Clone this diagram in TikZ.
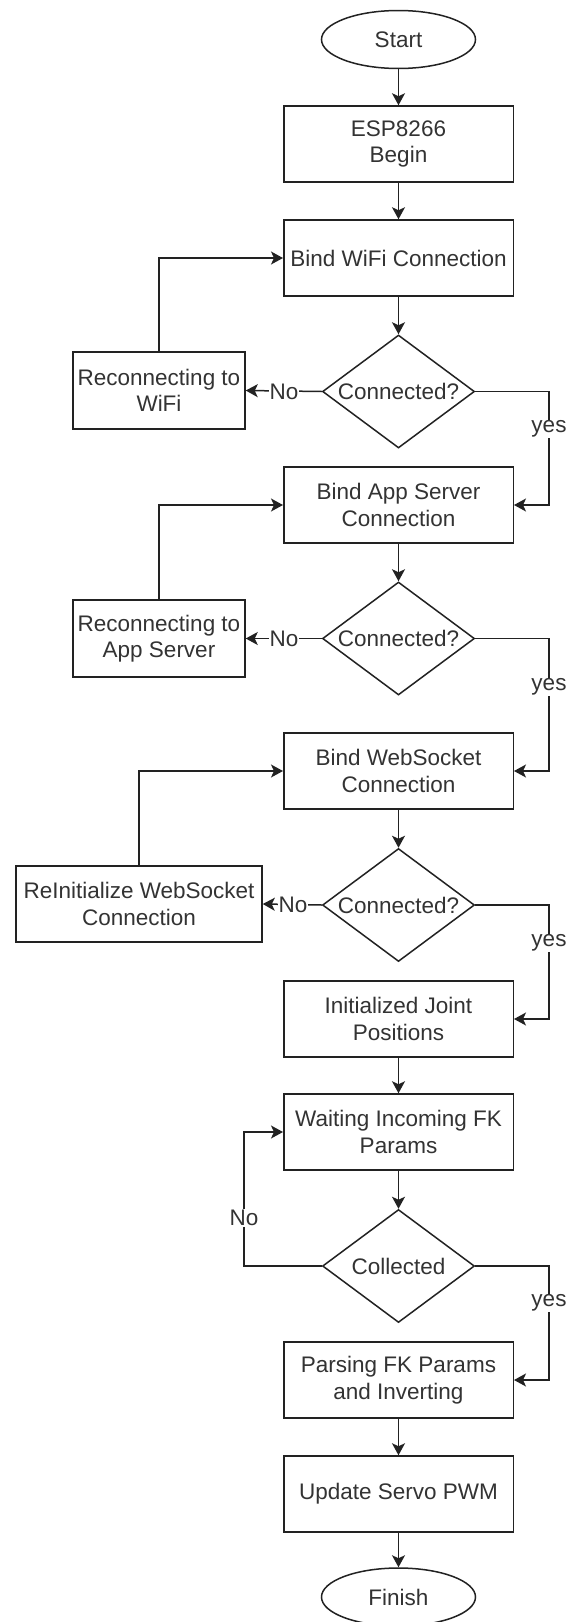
\documentclass[tikz,border=0pt]{standalone}
\usepackage{fontspec}
\setmainfont{Liberation Sans}
\usetikzlibrary{shapes.geometric,arrows.meta}
\definecolor{ink}{HTML}{222222}
\definecolor{txt}{HTML}{333333}
\begin{document}
\begin{tikzpicture}[x=1pt,y=-1pt,
  every node/.style={font=\fontsize{22.5}{26.5}\selectfont, text=txt, align=center},
  procbox/.style={draw=ink, line width=1.5pt, rectangle, minimum width=229.5pt, minimum height=76pt, inner sep=0pt},
  sidebox/.style={draw=ink, line width=1.5pt, rectangle, minimum width=172pt, minimum height=77pt, inner sep=0pt},
  terminal/.style={draw=ink, line width=1.5pt, ellipse, minimum width=154pt, minimum height=58pt, inner sep=0pt},
  decision/.style={draw=ink, line width=1.5pt, diamond, aspect=1.345, minimum width=152pt, minimum height=113pt, inner sep=0pt},
  flow/.style={draw=ink, line width=1.5pt, -{Stealth[length=12pt,width=13pt,inset=3pt]}},
  lbl/.style={fill=white, inner sep=1pt}
]
\useasboundingbox (0,0) rectangle (573,1622);
\fill[white] (0,0) rectangle (573,1622);

% main column
\node[terminal] (start) at (398.5,39.5) {Start};
\node[procbox] (esp) at (398.5,144) {ESP8266\\Begin};
\node[procbox] (wifi) at (398.5,258) {Bind WiFi Connection};
\node[decision] (d1) at (398.5,391.5) {Connected?};
\node[procbox] (app) at (398.5,505) {Bind App Server\\Connection};
\node[decision] (d2) at (398.5,638.5) {Connected?};
\node[procbox] (ws) at (398.5,771) {Bind WebSocket\\Connection};
\node[decision] (d3) at (398.5,905) {Connected?};
\node[procbox] (ij) at (398.5,1019) {Initialized Joint\\Positions};
\node[procbox] (wait) at (398.5,1132) {Waiting Incoming FK\\Params};
\node[decision] (dc) at (398.5,1266) {Collected};
\node[procbox] (parse) at (398.5,1380) {Parsing FK Params\\and Inverting};
\node[procbox] (upd) at (398.5,1494) {Update Servo PWM};
\node[terminal] (fin) at (398.5,1597) {Finish};

% side boxes
\node[sidebox] (rw) at (159,390.5) {Reconnecting to\\WiFi};
\node[sidebox] (ra) at (159,638.5) {Reconnecting to\\App Server};
\node[draw=ink, line width=1.5pt, rectangle, minimum width=246pt, minimum height=76pt, inner sep=0pt] (ri) at (139,904) {ReInitialize WebSocket\\Connection};

% straight flow
\draw[flow] (start) -- (esp);
\draw[flow] (esp) -- (wifi);
\draw[flow] (wifi) -- (d1);
\draw[flow] (app) -- (d2);
\draw[flow] (ws) -- (d3);
\draw[flow] (ij) -- (wait);
\draw[flow] (wait) -- (dc);
\draw[flow] (parse) -- (upd);
\draw[flow] (upd) -- (fin);

% yes branches
\coordinate (y1) at (549,391.5);
\coordinate (y2) at (549,638.5);
\coordinate (y3) at (549,905);
\coordinate (y4) at (549,1266);
\draw[flow] (d1.east) -- (y1) |- (app.east);
\draw[flow] (d2.east) -- (y2) |- (ws.east);
\draw[flow] (d3.east) -- (y3) |- (ij.east);
\draw[flow] (dc.east) -- (y4) |- (parse.east);
\node[lbl] (yes1) at (549,429) {yes};
\node[lbl] (yes2) at (549,687) {yes};
\node[lbl] (yes3) at (549,943) {yes};
\node[lbl] (yes4) at (549,1303) {yes};

% no branches
\draw[flow] (d1.west) -- (rw.east);
\draw[flow] (d2.west) -- (ra.east);
\draw[flow] (d3.west) -- (ri.east);
\node[lbl] (no1) at (284,391.5) {No};
\node[lbl] (no2) at (284,638.5) {No};
\node[lbl] (no3) at (293,905) {No};

% feedback loops
\draw[flow] (rw.north) |- (wifi.west);
\draw[flow] (ra.north) |- (app.west);
\draw[flow] (ri.north) |- (ws.west);
\coordinate (nl) at (244,1132);
\draw[flow] (dc.west) -| (nl) -- (wait.west);
\node[lbl] (no4) at (244,1218) {No};
\end{tikzpicture}
\end{document}
